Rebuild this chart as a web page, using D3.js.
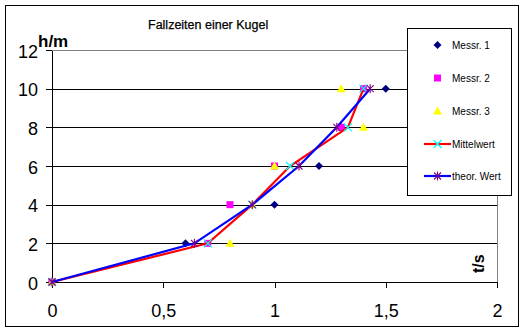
<!DOCTYPE html>
<html><head><meta charset="utf-8">
<script src="https://cdn.jsdelivr.net/npm/d3@7"></script>
<style>body{margin:0;background:#fff}</style>
</head><body><svg id="c" width="525" height="332"></svg>
<script>
// Höhen (y) und Fallzeiten (x)
const hoehen = [0, 2, 4, 6, 8, 10];
const messr1 = [0, 0.6, 1.0, 1.2, 1.3, 1.5];
const messr2 = [0, 0.7, 0.8, 1.0, 1.3, 1.4];
const messr3 = [0, 0.8, 0.9, 1.0, 1.4, 1.3];
const mittelwert = [0, 0.70, 0.90, 1.07, 1.33, 1.40];
const theorWert = [0, 0.64, 0.90, 1.11, 1.28, 1.43];
const xTicks = [0, 0.5, 1, 1.5, 2];
const yTicks = [0, 2, 4, 6, 8, 10, 12];
const seriesNames = ["Messr. 1", "Messr. 2", "Messr. 3", "Mittelwert", "theor. Wert"];
const titleText = "Fallzeiten einer Kugel";
const xLabel = "t/s";
const yLabel = "h/m";

const font = "'Liberation Sans', Arial, sans-serif";
const svg = d3.select("#c");
const x = d3.scaleLinear().domain([0, 2]).range([52, 497]);
const y = d3.scaleLinear().domain([0, 12]).range([282, 50]);

svg.append("rect").attr("x", 5.5).attr("y", 5.5).attr("width", 513).attr("height", 321)
  .attr("fill", "#fff").attr("stroke", "#000");

// Plotfläche Rahmen (grau)
svg.append("path").attr("d", `M${x(0)},${y(12)+0.5}H${x(2)+0.5}V${y(0)+6}`)
  .attr("fill", "none").attr("stroke", "#808080").attr("stroke-width", 1);

// Gitternetz
const grid = svg.append("g").attr("transform", `translate(${x(0)},0)`)
  .call(d3.axisLeft(y).tickValues(yTicks.filter(v => v > 0 && v < 12)).tickSize(-(x(2) - x(0))).tickFormat(""));
grid.select(".domain").remove();
grid.selectAll("line").attr("stroke", "#000").attr("shape-rendering", "crispEdges");

// Y-Achse
const ya = svg.append("g").attr("transform", `translate(${x(0)},0)`)
  .call(d3.axisLeft(y).tickValues(yTicks).tickSize(6).tickSizeOuter(0));
ya.selectAll("line, path").attr("stroke", "#000").attr("shape-rendering", "crispEdges");
ya.selectAll("text").attr("x", -14).attr("dy", "0.4em").style("font-family", font).style("font-size", "18px").attr("fill", "#000");

// X-Achse
const xa = svg.append("g").attr("transform", `translate(0,${y(0)})`)
  .call(d3.axisBottom(x).tickValues(xTicks).tickSize(6).tickSizeOuter(0)
    .tickFormat(d => String(d).replace(".", ",")));
xa.selectAll("line, path").attr("stroke", "#000").attr("shape-rendering", "crispEdges");
xa.selectAll("text").attr("y", 22).style("font-family", font).style("font-size", "18px").attr("fill", "#000");

// Titel und Achsenbeschriftungen
svg.append("text").attr("x", 148).attr("y", 29).text(titleText)
  .style("font-family", font).style("font-size", "12.5px").attr("fill", "#000")
  .attr("stroke", "#000").attr("stroke-width", 0.25);
svg.append("text").attr("x", 38).attr("y", 47).text(yLabel)
  .style("font-family", font).style("font-size", "17px").style("font-weight", "bold").attr("fill", "#000");
svg.append("text").attr("transform", "translate(484,273) rotate(-90)").text(xLabel)
  .style("font-family", font).style("font-size", "16px").style("font-weight", "bold").attr("fill", "#000");

// Marker
function diamond(g, cx, cy) {
  g.append("path").attr("d", `M${cx},${cy-4}L${cx+4},${cy}L${cx},${cy+4}L${cx-4},${cy}Z`).attr("fill", "#000080");
}
function square(g, cx, cy) {
  g.append("rect").attr("x", cx - 3.5).attr("y", cy - 3.5).attr("width", 7).attr("height", 7).attr("fill", "#FF00FF");
}
function triangle(g, cx, cy) {
  g.append("path").attr("d", `M${cx},${cy-4.5}L${cx+4.5},${cy+3.5}L${cx-4.5},${cy+3.5}Z`).attr("fill", "#FFFF00");
}
function xmark(g, cx, cy) {
  g.append("path").attr("d", `M${cx-4},${cy-4}L${cx+4},${cy+4}M${cx+4},${cy-4}L${cx-4},${cy+4}`)
    .attr("stroke", "#00FFFF").attr("stroke-width", 1.2).attr("fill", "none");
}
function star(g, cx, cy) {
  g.append("path").attr("d", `M${cx-3.5},${cy-3.5}L${cx+3.5},${cy+3.5}M${cx+3.5},${cy-3.5}L${cx-3.5},${cy+3.5}M${cx},${cy-4.5}L${cx},${cy+4.5}`)
    .attr("stroke", "#800080").attr("stroke-width", 1.1).attr("fill", "none");
}

const plot = svg.append("g");
const pts = arr => arr.map((t, i) => ({ t, h: hoehen[i] }));
const s1 = plot.append("g"); pts(messr1).forEach(d => diamond(s1, x(d.t), y(d.h)));
const s2 = plot.append("g"); pts(messr2).forEach(d => square(s2, x(d.t), y(d.h)));
const s3 = plot.append("g"); pts(messr3).forEach(d => triangle(s3, x(d.t), y(d.h)));

const line = d3.line().x(d => x(d.t)).y(d => y(d.h));
plot.append("path").datum(pts(mittelwert)).attr("d", line).attr("fill", "none").attr("stroke", "#FF0000").attr("stroke-width", 2.2);
const s4 = plot.append("g"); pts(mittelwert).forEach(d => xmark(s4, x(d.t), y(d.h)));
plot.append("path").datum(pts(theorWert)).attr("d", line).attr("fill", "none").attr("stroke", "#0000FF").attr("stroke-width", 2.2);
const s5 = plot.append("g"); pts(theorWert).forEach(d => star(s5, x(d.t), y(d.h)));

// Legende
const lg = svg.append("g");
lg.append("rect").attr("x", 407.5).attr("y", 28.5).attr("width", 104).attr("height", 167)
  .attr("fill", "#fff").attr("stroke", "#000");
const legY = [45, 78, 111, 144, 176];
const mk = [diamond, square, triangle, xmark, star];
const lineCol = [null, null, null, "#FF0000", "#0000FF"];
seriesNames.forEach((name, i) => {
  if (lineCol[i]) {
    lg.append("line").attr("x1", 424).attr("x2", 451).attr("y1", legY[i]).attr("y2", legY[i])
      .attr("stroke", lineCol[i]).attr("stroke-width", 2.2);
  }
  mk[i](lg, 437.5, legY[i]);
  lg.append("text").attr("x", 452).attr("y", legY[i] + 3.5).text(name)
    .style("font-family", font).style("font-size", "10px").attr("fill", "#000");
});
</script>
</body></html>
